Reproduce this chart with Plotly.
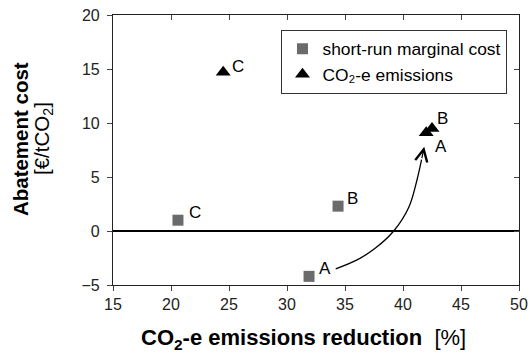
import plotly.graph_objects as go

# data
points = ["A", "B", "C"]
srmc_x = [31.9, 34.4, 20.6]
srmc_y = [-4.2, 2.3, 1.0]
co2_x = [42.0, 42.5, 24.5]
co2_y = [9.1, 9.5, 14.7]
arrow_x = [34.2, 36.0, 37.6, 39.2, 40.5, 41.2, 41.6]
arrow_y = [-3.5, -2.7, -1.6, 0.0, 2.2, 4.7, 6.6]
arrow_head = (41.83, 7.8)
x_ticks = [15, 20, 25, 30, 35, 40, 45, 50]
y_ticks = [-5, 0, 5, 10, 15, 20]

# label offsets (pixels)
srmc_label_shift = [(16, 8), (14, 8), (17, 8)]
co2_label_shift = [(15, -14), (10, 10), (15, 6)]

font = "Arial, Liberation Sans, sans-serif"

fig = go.Figure()
fig.add_trace(go.Scatter(
    x=arrow_x, y=arrow_y, mode="lines", line=dict(color="black", width=1.3, shape="spline"),
    showlegend=False, hoverinfo="skip"))
fig.add_trace(go.Scatter(
    x=srmc_x, y=srmc_y, mode="markers", name="short-run marginal cost",
    marker=dict(symbol="square", size=11, color="#6b6b6b")))
fig.add_trace(go.Scatter(
    x=co2_x, y=co2_y, mode="markers", name="CO₂-e emissions",
    marker=dict(symbol="triangle-up", size=13, color="black")))

for xs, ys, shifts in [(srmc_x, srmc_y, srmc_label_shift), (co2_x, co2_y, co2_label_shift)]:
    for p, xv, yv, (dx, dy) in zip(points, xs, ys, shifts):
        fig.add_annotation(x=xv, y=yv, text=p, showarrow=False, xanchor="center",
                           yanchor="middle", xshift=dx, yshift=dy,
                           font=dict(size=17, color="black", family=font))

fig.add_annotation(x=arrow_head[0], y=arrow_head[1], ax=arrow_x[-1], ay=arrow_y[-1],
                   xref="x", yref="y", axref="x", ayref="y", text="",
                   showarrow=True, arrowhead=5, arrowsize=2, arrowwidth=1.2, arrowcolor="black")

# axis titles
fig.add_annotation(xref="paper", yref="paper", x=-0.228, y=0.542, text="<b>Abatement cost</b>",
                   textangle=-90, showarrow=False, xanchor="center", yanchor="middle",
                   font=dict(size=20.5, color="black"))
fig.add_annotation(xref="paper", yref="paper", x=-0.174, y=0.542, text="[€/tCO<sub>2</sub>]",
                   textangle=-90, showarrow=False, xanchor="center", yanchor="middle",
                   font=dict(size=20.5, color="black"))
fig.add_annotation(xref="paper", yref="paper", x=0.47, y=-0.2,
                   text="<b>CO<sub>2</sub>-e emissions reduction</b>  [%]",
                   showarrow=False, xanchor="center", yanchor="middle",
                   font=dict(size=22, color="black"))

axis_common = dict(showline=True, linecolor="#222", linewidth=1.2, showgrid=False,
                   automargin=False)
fig.update_layout(
    width=530, height=356,
    margin=dict(l=113, r=11, t=15, b=71),
    paper_bgcolor="white", plot_bgcolor="white",
    font=dict(family=font, size=16, color="#222"),
    legend=dict(x=0.415, y=0.945, xanchor="left", yanchor="top",
                bordercolor="#333", borderwidth=1, bgcolor="white",
                font=dict(size=17.4, color="black"), tracegroupgap=0,
                itemsizing="trace"),
    xaxis=dict(range=[15, 50], tickvals=x_ticks, ticks="outside", ticklen=5,
               zeroline=False, tickfont=dict(size=16), mirror=True,
               ticklabeloverflow="allow", **axis_common),
    yaxis=dict(range=[-5, 20], tickvals=y_ticks, ticks="outside", ticklen=5,
               zeroline=True, zerolinecolor="black", zerolinewidth=2, mirror=True,
               tickfont=dict(size=16), ticklabelstandoff=4, **axis_common),
    xaxis2=dict(overlaying="x", matches="x", side="top", tickvals=x_ticks,
                ticks="inside", ticklen=5, showticklabels=False, zeroline=False,
                range=[15, 50], **axis_common),
    yaxis2=dict(overlaying="y", matches="y", side="right", tickvals=y_ticks,
                ticks="inside", ticklen=5, showticklabels=False, zeroline=False,
                range=[-5, 20], **axis_common),
)
fig.add_trace(go.Scatter(x=[None], y=[None], xaxis="x2", yaxis="y2", showlegend=False,
                         hoverinfo="skip"))

fig.write_html("out.html", config={"displayModeBar": False},
               post_script="document.body.style.margin='0';document.body.style.overflow='hidden';")
